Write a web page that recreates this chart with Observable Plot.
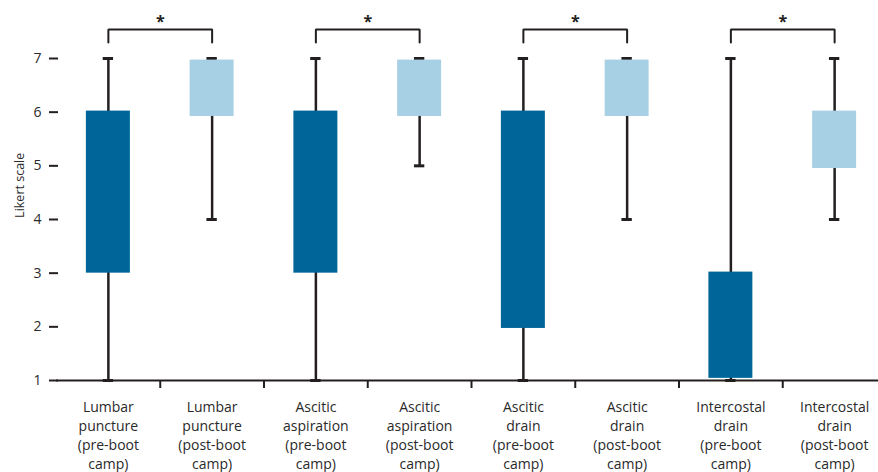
<!DOCTYPE html>
<html>
<head>
<meta charset="utf-8">
<script src="https://cdn.jsdelivr.net/npm/d3@7"></script>
<script src="https://cdn.jsdelivr.net/npm/@observablehq/plot@0.6"></script>
<style>
  html, body { margin: 0; padding: 0; background: #fff; }
  #chart svg { display: block; font-family: "Open Sans", sans-serif; }
</style>
</head>
<body>
<div id="chart"></div>
<script>
// Categories (index = position on the x axis)
const labels = [
  "Lumbar\npuncture\n(pre-boot\ncamp)",
  "Lumbar\npuncture\n(post-boot\ncamp)",
  "Ascitic\naspiration\n(pre-boot\ncamp)",
  "Ascitic\naspiration\n(post-boot\ncamp)",
  "Ascitic\ndrain\n(pre-boot\ncamp)",
  "Ascitic\ndrain\n(post-boot\ncamp)",
  "Intercostal\ndrain\n(pre-boot\ncamp)",
  "Intercostal\ndrain\n(post-boot\ncamp)"
];
const phase = ["pre", "post", "pre", "post", "pre", "post", "pre", "post"];
const minV = [1, 4, 1, 5, 1, 4, 1, 4];
const q1V  = [3, 5.92, 3, 5.92, 1.97, 5.92, 1.04, 4.95];
const q3V  = [6.02, 6.97, 6.02, 6.97, 6.02, 6.97, 3.02, 6.02];
const maxV = [7, 7, 7, 7, 7, 7, 7, 7];
// Significance pairs (pre index, post index)
const pairs = [[0, 1], [2, 3], [4, 5], [6, 7]];
const yTicks = [1, 2, 3, 4, 5, 6, 7];
const yLabel = "Likert scale";
const bracketTop = 7.54, bracketBottom = 7.30, starY = 7.68;

const boxes = labels.map((l, i) => ({i, label: l, phase: phase[i], min: minV[i], q1: q1V[i], q3: q3V[i], max: maxV[i]}));
const bracketPts = pairs.flatMap(([a, b], k) => [
  {k, x: a, y: bracketBottom}, {k, x: a, y: bracketTop},
  {k, x: b, y: bracketTop}, {k, x: b, y: bracketBottom}
]);
const stars = pairs.map(([a, b]) => ({x: (a + b) / 2, y: starY}));
const boundaries = d3.range(0.5, 7, 1);

const ink = "#231f20";
const chart = Plot.plot({
  width: 878,
  height: 472,
  marginLeft: 58,
  marginRight: 0,
  marginTop: 58,
  marginBottom: 92,
  style: {fontFamily: "Open Sans, sans-serif", overflow: "visible"},
  x: {type: "linear", domain: [-0.5, 7.5], range: [56, 886], axis: null},
  y: {type: "linear", domain: [1, 7], axis: null},
  color: {domain: ["pre", "post"], range: ["#006699", "#a8d0e4"]},
  marks: [
    // whiskers
    Plot.ruleX(boxes, {x: "i", y1: "min", y2: "max", stroke: ink, strokeWidth: 2.5}),
    // caps
    Plot.ruleY(boxes, {y: "max", x1: d => d.i - 0.05, x2: d => d.i + 0.05, stroke: ink, strokeWidth: 3}),
    Plot.ruleY(boxes, {y: "min", x1: d => d.i - 0.05, x2: d => d.i + 0.05, stroke: ink, strokeWidth: 3}),
    // boxes
    Plot.rect(boxes, {x1: d => d.i - 0.212, x2: d => d.i + 0.212, y1: "q1", y2: "q3", fill: "phase"}),
    // axis lines
    Plot.ruleX([58], {x: d => d, y1: 1, y2: 7, stroke: ink, strokeWidth: 2}),
    Plot.ruleY([1], {y: d => d, x1: -0.5, x2: 7.5, stroke: ink, strokeWidth: 2}),
    // y ticks
    Plot.axisY({ticks: yTicks, tickSize: 9, tickPadding: 8, tickFormat: d => d, fontSize: 14, stroke: ink, strokeWidth: 2, fill: "#2a2a2a", label: null}),
    Plot.text([yLabel], {frameAnchor: "left", y: 4.03, text: d => d, rotate: -90, dx: -39, fontSize: 12.5, fill: "#2a2a2a"}),
    // x ticks at category boundaries
    Plot.axisX({ticks: boundaries, tickSize: 8, tickFormat: () => "", stroke: ink, strokeWidth: 2, label: null}),
    // category labels
    Plot.text(boxes, {x: "i", y: 1, text: "label", lineAnchor: "top", dy: 18, lineHeight: 1.36, fontSize: 14, fill: "#2a2a2a"}),
    // significance brackets
    Plot.line(bracketPts, {x: "x", y: "y", z: "k", stroke: ink, strokeWidth: 2, strokeLinejoin: "miter"}),
    Plot.text(stars, {x: "x", y: "y", text: () => "*", fontSize: 16, fontWeight: "bold", fill: ink})
  ]
});
document.getElementById("chart").append(chart);
</script>
</body>
</html>
